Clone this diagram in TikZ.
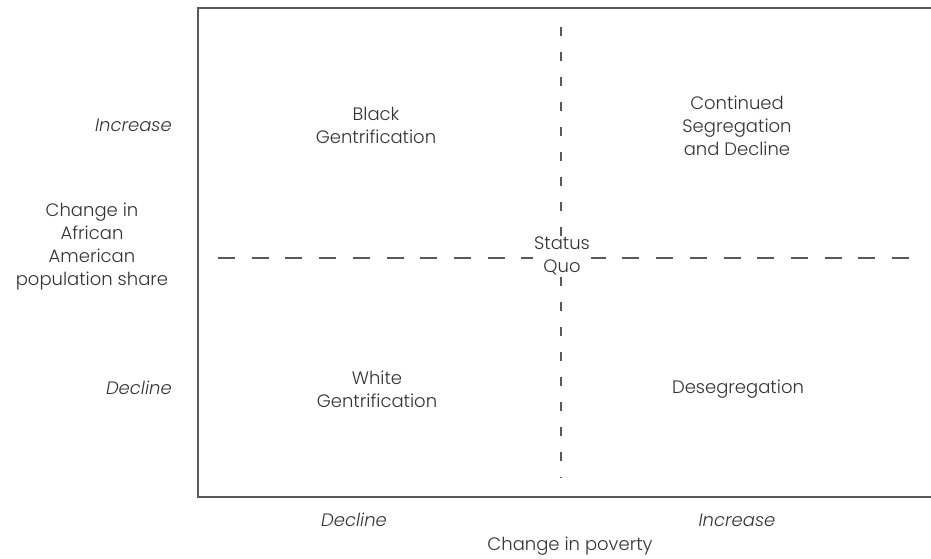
\documentclass[tikz,border=0pt]{standalone}
\usepackage{fontspec}
\setmainfont{Poppins}[UprightFont=* Light, ItalicFont=* Light Italic]
\begin{document}
\begin{tikzpicture}[x=1pt,y=-1pt,
  lbl/.style={text=black!80, font=\fontsize{18}{23}\selectfont, align=center, inner sep=0pt},
  ilbl/.style={lbl, font=\fontsize{18}{23}\selectfont\itshape},
  frame/.style={draw=black!65, line width=1.6pt},
  hdash/.style={draw=black!65, line width=1.4pt, dash pattern=on 17pt off 16.7pt},
  vdash/.style={draw=black!65, line width=1.4pt, dash pattern=on 9pt off 16pt}]
\useasboundingbox (0,0) rectangle (931,558);
\coordinate (tr) at (940,8);
\coordinate (tl) at (198,8);
\coordinate (bl) at (198,497);
\coordinate (br) at (940,497);
\draw[frame] (tr) -- (tl) -- (bl) -- (br);
\coordinate (h1) at (218,258);
\coordinate (h2) at (923,258);
\draw[hdash] (h1) -- (h2);
\coordinate (v1) at (561,27);
\coordinate (v2) at (561,478);
\draw[vdash] (v1) -- (v2);
\node[lbl, fill=white, inner sep=1pt] (sq) at (562,256) {Status\\Quo};
\node[ilbl, anchor=east] (yinc) at (172,125) {Increase};
\node[ilbl, anchor=east] (ydec) at (172,388) {Decline};
\node[lbl] (ylab) at (92,247) {Change in\\African\\American\\population share};
\node[lbl] (bg) at (376,125) {Black\\Gentrification};
\node[lbl] (cs) at (737,126) {Continued\\Segregation\\and Decline};
\node[lbl] (wg) at (377,389) {White\\Gentrification};
\node[lbl] (ds) at (738,389) {Desegregation};
\node[ilbl] (xdec) at (354,520) {Decline};
\node[ilbl] (xinc) at (737,520) {Increase};
\node[lbl] (xlab) at (570,546) {Change in poverty};
\end{tikzpicture}
\end{document}
